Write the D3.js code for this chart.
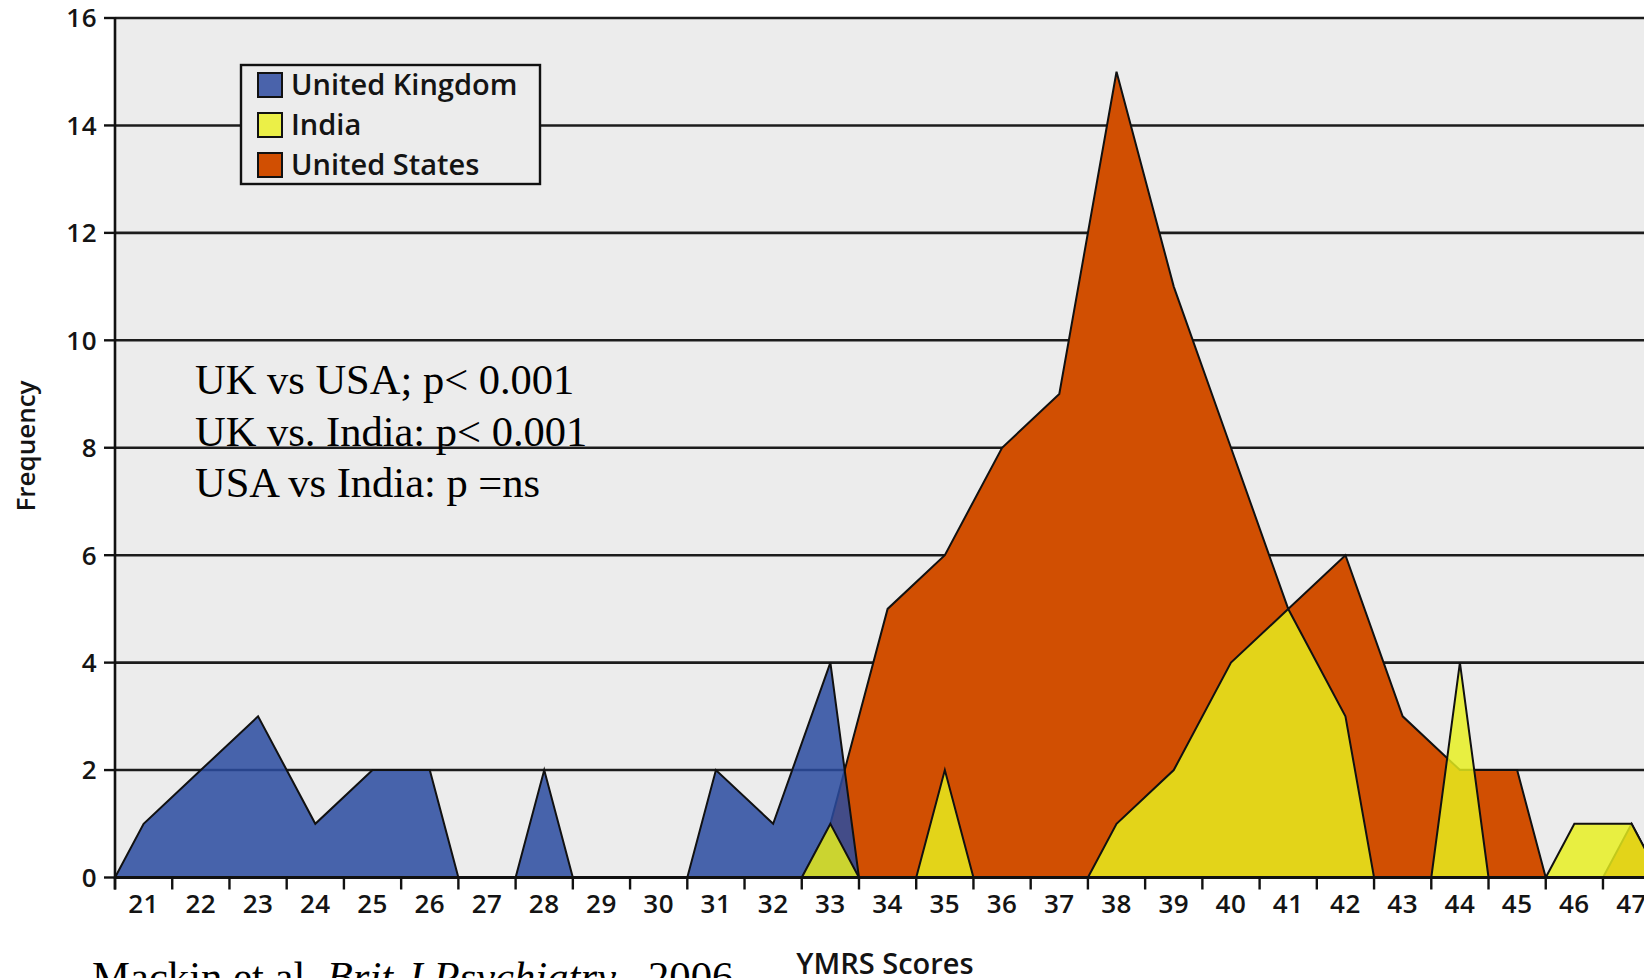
<!DOCTYPE html>
<html>
<head>
<meta charset="utf-8">
<script src="https://cdn.jsdelivr.net/npm/d3@7"></script>
<style>
  html, body { margin: 0; padding: 0; background: #fff; overflow: hidden; }
  svg { display: block; }
</style>
</head>
<body>
<svg id="chart" width="1644" height="978"></svg>
<script>
// YMRS score categories on the x axis
const scores = [21, 22, 23, 24, 25, 26, 27, 28, 29, 30, 31, 32, 33, 34,
                35, 36, 37, 38, 39, 40, 41, 42, 43, 44, 45, 46, 47];

// Frequency of each score, per country
const ukFreq    = [1, 2, 3, 1, 2, 2, 0, 2, 0, 0, 2, 1, 4, 0,
                   0, 0, 0, 0, 0, 0, 0, 0, 0, 0, 0, 0, 0];
const indiaFreq = [0, 0, 0, 0, 0, 0, 0, 0, 0, 0, 0, 0, 1, 0,
                   2, 0, 0, 1, 2, 4, 5, 3, 0, 4, 0, 1, 1];
const usaFreq   = [0, 0, 0, 0, 0, 0, 0, 0, 0, 0, 0, 0, 1, 5,
                   6, 8, 9, 15, 11, 8, 5, 6, 3, 2, 2, 0, 1];

const seriesNames = ["United Kingdom", "India", "United States"];
const yTicks = [0, 2, 4, 6, 8, 10, 12, 14, 16];

const statLines = [
  "UK vs USA; p< 0.001",
  "UK vs. India: p< 0.001",
  "USA vs India: p =ns"
];

const W = 1644, H = 978;
const plotLeft = 115, plotTop = 18, plotBottom = 877.5;
const bandW = 57.23;

const svg = d3.select("#chart");
const sansFont = "'Open Sans', 'Lato', sans-serif";
const serifFont = "'Liberation Serif', 'Times New Roman', serif";
const ink = "#141414";

const x = d3.scaleBand()
  .domain(scores)
  .range([plotLeft, plotLeft + bandW * scores.length])
  .paddingInner(0).paddingOuter(0);

const y = d3.scaleLinear().domain([0, 16]).range([plotBottom, plotTop]);

// plot background
svg.append("rect")
  .attr("x", plotLeft).attr("y", y(16))
  .attr("width", W - plotLeft).attr("height", y(0) - y(16))
  .attr("fill", "#ececec");

// horizontal gridlines
svg.append("g").selectAll("line")
  .data(yTicks)
  .join("line")
  .attr("x1", plotLeft).attr("x2", W)
  .attr("y1", d => y(d)).attr("y2", d => y(d))
  .attr("stroke", "#1c1c1c")
  .attr("stroke-width", 2.6);

// Split a series into runs of non-zero scores; each run rises from the
// left edge of its first band and falls back at the right edge of its last.
function runsOf(values) {
  const out = [];
  let cur = null;
  values.forEach((v, i) => {
    if (v > 0) {
      if (!cur) { cur = []; out.push(cur); }
      cur.push(i);
    } else {
      cur = null;
    }
  });
  return out.map(run => {
    const first = run[0], last = run[run.length - 1];
    const pts = [{ px: x(scores[first]), v: 0 }];
    run.forEach(i => pts.push({ px: x(scores[i]) + x.bandwidth() / 2, v: values[i] }));
    pts.push({ px: x(scores[last]) + x.bandwidth(), v: 0 });
    return pts;
  });
}

const area = d3.area()
  .x(d => d.px)
  .y0(y(0))
  .y1(d => y(d.v));

const layers = [
  { values: usaFreq,   fill: "#d14f02",          opacity: 1 },
  { values: ukFreq,    fill: "rgb(42,75,160)",   opacity: 0.85 },
  { values: indiaFreq, fill: "rgb(231,239,30)",  opacity: 0.83 }
];

layers.forEach(layer => {
  svg.append("g").selectAll("path")
    .data(runsOf(layer.values))
    .join("path")
    .attr("d", area)
    .attr("fill", layer.fill)
    .attr("fill-opacity", layer.opacity)
    .attr("stroke", "#111")
    .attr("stroke-width", 2)
    .attr("stroke-linejoin", "miter");
});

// x axis baseline and ticks at band boundaries
svg.append("line")
  .attr("x1", plotLeft).attr("x2", W)
  .attr("y1", y(0)).attr("y2", y(0))
  .attr("stroke", "#111").attr("stroke-width", 3);

const boundaries = scores.map(s => x(s)).concat([x(scores[scores.length - 1]) + x.bandwidth()]);
svg.append("g").selectAll("line")
  .data(boundaries)
  .join("line")
  .attr("x1", d => d).attr("x2", d => d)
  .attr("y1", y(0)).attr("y2", y(0) + 12)
  .attr("stroke", "#111").attr("stroke-width", 2.4);

svg.append("g").selectAll("text")
  .data(scores)
  .join("text")
  .attr("x", d => x(d) + x.bandwidth() / 2)
  .attr("y", 913)
  .attr("text-anchor", "middle")
  .attr("font-family", sansFont)
  .attr("font-weight", 600)
  .attr("font-size", 26)
  .attr("letter-spacing", 0.5)
  .attr("fill", ink)
  .text(d => d);

// y axis line, ticks and labels
svg.append("line")
  .attr("x1", plotLeft).attr("x2", plotLeft)
  .attr("y1", y(16) - 1).attr("y2", y(0) + 12)
  .attr("stroke", "#111").attr("stroke-width", 2.6);

svg.append("g").selectAll("line")
  .data(yTicks)
  .join("line")
  .attr("x1", plotLeft - 11).attr("x2", plotLeft)
  .attr("y1", d => y(d)).attr("y2", d => y(d))
  .attr("stroke", "#111").attr("stroke-width", 2.4);

svg.append("g").selectAll("text")
  .data(yTicks)
  .join("text")
  .attr("x", 97)
  .attr("y", d => y(d))
  .attr("dy", "0.36em")
  .attr("text-anchor", "end")
  .attr("font-family", sansFont)
  .attr("font-weight", 600)
  .attr("font-size", 26)
  .attr("letter-spacing", 0.5)
  .attr("fill", ink)
  .text(d => d);

// axis titles
svg.append("text")
  .attr("transform", "translate(26,446) rotate(-90)")
  .attr("text-anchor", "middle")
  .attr("dy", "0.36em")
  .attr("font-family", sansFont)
  .attr("font-weight", 600)
  .attr("font-size", 26)
  .attr("fill", ink)
  .text("Frequency");

svg.append("text")
  .attr("x", 885).attr("y", 974)
  .attr("text-anchor", "middle")
  .attr("font-family", sansFont)
  .attr("font-weight", 600)
  .attr("font-size", 29)
  .attr("fill", ink)
  .text("YMRS Scores");

// legend
const legendColors = ["#4a63ab", "#ebef47", "#d14f02"];
const legend = svg.append("g");
legend.append("rect")
  .attr("x", 241).attr("y", 65)
  .attr("width", 299).attr("height", 119)
  .attr("fill", "#ececec")
  .attr("stroke", "#111").attr("stroke-width", 2.4);

const items = legend.selectAll("g.item")
  .data(seriesNames)
  .join("g")
  .attr("class", "item")
  .attr("transform", (d, i) => `translate(258, ${85 + i * 40})`);

items.append("rect")
  .attr("x", 0).attr("y", -12)
  .attr("width", 24).attr("height", 24)
  .attr("fill", (d, i) => legendColors[i])
  .attr("stroke", "#111").attr("stroke-width", 2);

items.append("text")
  .attr("x", 33).attr("y", 0)
  .attr("dy", "0.36em")
  .attr("font-family", sansFont)
  .attr("font-weight", 600)
  .attr("font-size", 29)
  .attr("fill", ink)
  .text(d => d);

// significance annotation
svg.append("g").selectAll("text")
  .data(statLines)
  .join("text")
  .attr("x", 195)
  .attr("y", (d, i) => 394 + i * 51.5)
  .attr("font-family", serifFont)
  .attr("font-size", 42.5)
  .attr("fill", "#000")
  .text(d => d);

// source citation (runs off the bottom edge of the figure)
const cite = svg.append("text")
  .attr("x", 92).attr("y", 991)
  .attr("font-family", serifFont)
  .attr("font-size", 42.7)
  .attr("fill", "#000")
  .attr("xml:space", "preserve");
cite.append("tspan").text("Mackin et al. ");
cite.append("tspan").attr("font-style", "italic").text("Brit J Psychiatry");
cite.append("tspan").text(",  2006");
</script>
</body>
</html>
